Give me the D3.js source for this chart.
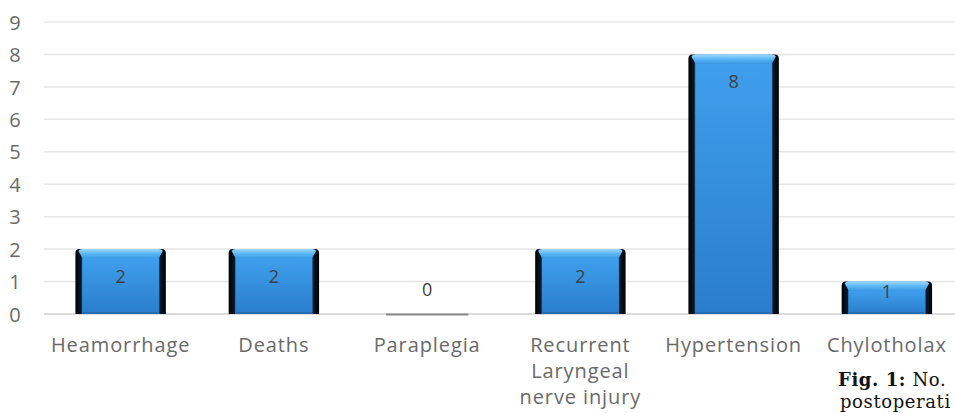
<!DOCTYPE html>
<html><head><meta charset="utf-8">
<script src="https://cdn.jsdelivr.net/npm/d3@7"></script>
<style>body{margin:0;background:#fff;overflow:hidden}svg{display:block}</style>
</head><body><svg id="c" width="955" height="413"></svg>
<script>
const categories = [["Heamorrhage"],["Deaths"],["Paraplegia"],["Recurrent","Laryngeal","nerve injury"],["Hypertension"],["Chylotholax"]];
const values = [2,2,0,2,8,1];
const yTicks = [0,1,2,3,4,5,6,7,8,9];
const captionBold = "Fig. 1:";
const captionRest = " No.";
const captionLine2 = "postoperati";

const svg = d3.select("#c");
const W = 955;
const FONT = "'Open Sans', sans-serif";
const x = d3.scaleBand().domain(d3.range(categories.length)).range([44, 963.5]).paddingInner(0.41).paddingOuter(0.205);
const y = d3.scaleLinear().domain([0,9]).range([314, 22]);

const defs = svg.append("defs");
const g1 = defs.append("linearGradient").attr("id","side").attr("x1",0).attr("x2",1).attr("y1",0).attr("y2",0);
[[0,"#000"],[0.065,"#0a1a2a"],[0.08,"#2f86d6"],[0.5,"#3a97e6"],[0.92,"#2f86d6"],[0.935,"#0a1a2a"],[1,"#000"]].forEach(([o,c])=>g1.append("stop").attr("offset",o).attr("stop-color",c));
const g2 = defs.append("linearGradient").attr("id","face").attr("x1",0).attr("x2",0).attr("y1",0).attr("y2",1);
[[0,"#3f9fec"],[1,"#2a7dcc"]].forEach(([o,c])=>g2.append("stop").attr("offset",o).attr("stop-color",c));
const g3 = defs.append("linearGradient").attr("id","top").attr("x1",0).attr("x2",0).attr("y1",0).attr("y2",1);
[[0,"#9fd8ff"],[0.5,"#5cb8f6"],[1,"#3c9be8"]].forEach(([o,c])=>g3.append("stop").attr("offset",o).attr("stop-color",c));

// gridlines
svg.append("g").selectAll("line").data(yTicks).join("line")
  .attr("x1",44).attr("x2",W).attr("y1",d=>y(d)).attr("y2",d=>y(d))
  .attr("stroke",d=>d===0?"#d0d0d0":"#e6e6e6").attr("stroke-width",1.5);

// y axis labels
const yAxis = d3.axisLeft(y).tickValues(yTicks).tickSize(0).tickPadding(0);
const ya = svg.append("g").attr("transform","translate(15,0)").call(yAxis);
ya.select(".domain").remove();
ya.selectAll("text").attr("font-family",FONT).attr("font-size",20).attr("fill","#6a6a6a").attr("text-anchor","middle").attr("dy","0.36em");

// bars
values.forEach((v,i)=>{
  const x0 = x(i), bw = x.bandwidth();
  if(v>0){
    const top = y(v), bot = y(0);
    const gg = svg.append("g");
    gg.append("path").attr("d",`M${x0},${bot} L${x0},${top+4} Q${x0},${top} ${x0+4},${top} L${x0+bw-4},${top} Q${x0+bw},${top} ${x0+bw},${top+4} L${x0+bw},${bot} Z`).attr("fill","url(#side)");
    gg.append("rect").attr("x",x0+7).attr("y",top+9).attr("width",bw-14).attr("height",Math.max(0,bot-top-9)).attr("fill","url(#face)");
    gg.append("path").attr("d",`M${x0+3},${top+2} Q${x0+4},${top} ${x0+7},${top} L${x0+bw-7},${top} Q${x0+bw-4},${top} ${x0+bw-3},${top+2} L${x0+bw-7},${top+9} L${x0+7},${top+9} Z`).attr("fill","url(#top)");
    gg.append("line").attr("x1",x0+7).attr("x2",x0+bw-7).attr("y1",bot-1).attr("y2",bot-1).attr("stroke","#1f5f9c").attr("stroke-width",1);
  } else {
    svg.append("line").attr("x1",x0+4).attr("x2",x0+x.bandwidth()-4).attr("y1",y(0)+0.5).attr("y2",y(0)+0.5).attr("stroke","#8a8a8a").attr("stroke-width",2);
  }
});

// value labels
svg.append("g").selectAll("text").data(values).join("text")
  .attr("x",(d,i)=>x(i)+x.bandwidth()/2)
  .attr("y",d=> d>0 ? y(d)+ (d===1? 16 : 34) : y(0)-18)
  .attr("text-anchor","middle")
  .attr("font-family",FONT).attr("font-size",18)
  .attr("fill","#404040")
  .text(d=>d);

// category labels
const xl = svg.append("g").selectAll("text").data(categories).join("text")
  .attr("x",(d,i)=>x(i)+x.bandwidth()/2).attr("y",352)
  .attr("text-anchor","middle").attr("letter-spacing",0.9)
  .attr("font-family",FONT).attr("font-size",20).attr("fill","#6a6a6a");
xl.selectAll("tspan").data(d=>d).join("tspan")
  .attr("x",function(){return this.parentNode.getAttribute("x");})
  .attr("dy",(d,j)=>j===0?0:26).text(d=>d);

// caption
const cap = svg.append("text").attr("x",838).attr("y",386)
  .attr("font-family","'DejaVu Serif', serif").attr("font-size",18).attr("letter-spacing",0.6).attr("fill","#111");
cap.append("tspan").attr("font-weight","bold").text(captionBold);
cap.append("tspan").text(captionRest);
svg.append("text").attr("x",840).attr("y",408)
  .attr("font-family","'DejaVu Serif', serif").attr("font-size",18).attr("letter-spacing",0.6).attr("fill","#111")
  .text(captionLine2);
</script></body></html>
